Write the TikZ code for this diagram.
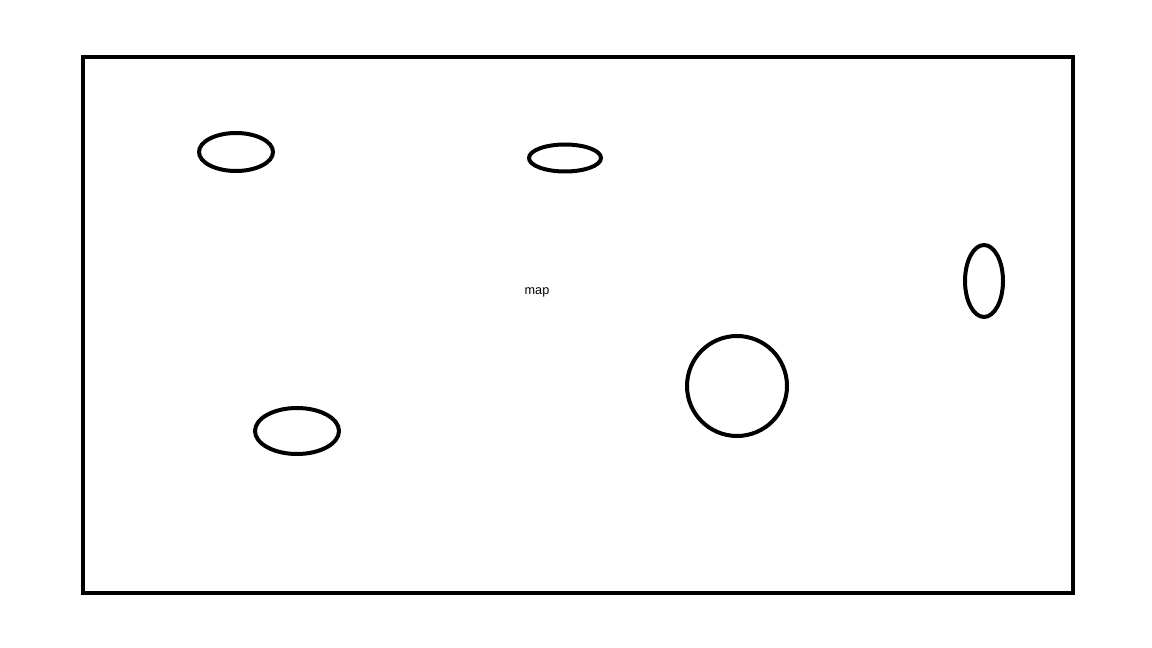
\documentclass[tikz,border=0pt]{standalone}
\usepackage{fontspec}
\setmainfont{Liberation Sans}
\begin{document}
\begin{tikzpicture}[x=0.75pt,y=-0.75pt,
  outline/.style={draw=black,line width=3pt},
  blob/.style={draw=black,line width=3pt}]
\useasboundingbox (0,0) rectangle (1152,648);
\fill[white] (0,0) rectangle (1152,648);
\draw[outline] (83,57) rectangle (1073,593);
\draw[blob] (236,152) ellipse [x radius=37, y radius=19];
\draw[blob] (565,158) ellipse [x radius=36, y radius=13.5];
\draw[blob] (984,281) ellipse [x radius=19, y radius=36];
\draw[blob] (297,431) ellipse [x radius=42, y radius=23];
\draw[blob] (737,386) circle [radius=50];
\node[font=\fontsize{9.5}{11}\selectfont, inner sep=0pt] (label) at (537,292) {map};
\end{tikzpicture}
\end{document}
